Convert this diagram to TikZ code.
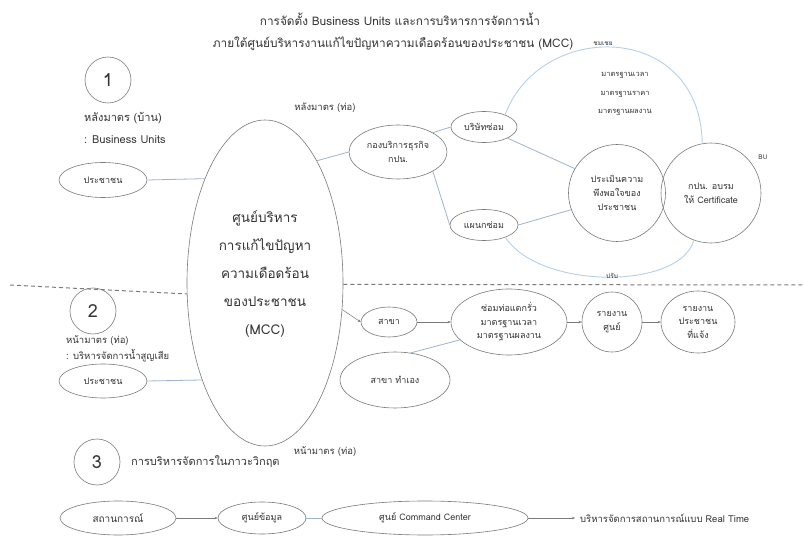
\documentclass[tikz,border=0pt]{standalone}
\usepackage{fontspec}
\setmainfont[Script=Thai]{Loma}
\usetikzlibrary{shapes.geometric,arrows.meta}
\definecolor{txt}{HTML}{333333}
\definecolor{edge}{HTML}{7A7A7A}
\definecolor{link}{HTML}{9DB4CC}
\definecolor{arcb}{HTML}{B5D0E8}
\tikzset{
  every node/.style={text=txt},
  ell/.style={draw=edge, line width=0.6pt, ellipse, inner sep=0pt, align=center, font=\fontsize{9}{13.5}\selectfont},
  circ/.style={draw=edge, line width=0.6pt, circle, inner sep=0pt, align=center, font=\fontsize{9}{14}\selectfont},
  numc/.style={draw=edge, line width=0.6pt, circle, minimum size=46pt, inner sep=0pt, font=\fontsize{18}{20}\selectfont},
  lbl/.style={font=\fontsize{6.5}{9}\selectfont, inner sep=0pt},
  conn/.style={draw=link, line width=0.8pt},
  arr/.style={draw=edge, line width=0.5pt, -{Stealth[length=3pt,width=2.5pt]}},
  arcline/.style={draw=arcb, line width=0.9pt},
}
\begin{document}
\begin{tikzpicture}[x=1pt,y=-1pt]
\useasboundingbox (0,0) rectangle (804,540);
\fill[white] (0,0) rectangle (804,540);
% title
\node[font=\fontsize{11.8}{12}\selectfont] (t1) at (400,19) {การจัดตั้ง Business Units และการบริหารการจัดการน้ำ};
\node[font=\fontsize{11.8}{12}\selectfont] (t2) at (393,44) {ภายใต้ศูนย์บริหารงานแก้ไขปัญหาความเดือดร้อนของประชาชน (MCC)};
% big ellipse
\node[draw=edge, line width=0.6pt, ellipse, minimum width=156pt, minimum height=326pt, inner sep=0pt] (mcc) at (265,283) {};
\node[align=center, font=\fontsize{13.5}{28}\selectfont] (mcctext) at (265,274) {ศูนย์บริหาร\\การแก้ไขปัญหา\\ความเดือดร้อน\\ของประชาชน\\(MCC)};
% section 1
\node[numc] (n1) at (108,80) {1};
\node[lbl, anchor=west, font=\fontsize{11}{12}\selectfont] (s1a) at (84,118) {หลังมาตร (บ้าน)};
\node[lbl, anchor=west, font=\fontsize{11}{12}\selectfont] (s1b) at (84,140) {: Business Units};
\node[ell, minimum width=88pt, minimum height=35pt] (pc1) at (103,180) {ประชาชน};
\node[lbl, font=\fontsize{9.5}{11}\selectfont] (h1) at (325,108) {หลังมาตร (ท่อ)};
\node[ell, minimum width=98pt, minimum height=54pt] (kong) at (398,152) {กองบริการธุรกิจ\\กปน.};
\node[ell, minimum width=66pt, minimum height=31pt] (bs) at (484,127) {บริษัทซ่อม};
\node[ell, minimum width=68pt, minimum height=31pt] (ps) at (484,225) {แผนกซ่อม};
\node[circ, minimum size=97pt] (pr) at (617,193) {ประเมินความ\\พึงพอใจของ\\ประชาชน};
\node[circ, minimum size=100pt] (kp) at (711,193) {กปน. อบรม\\ให้ Certificate};
\node[lbl] (chom) at (603,44) {ชมเชย};
\node[lbl, align=center, font=\fontsize{7.5}{18.5}\selectfont] (std) at (625,94) {มาตรฐานเวลา\\มาตรฐานราคา\\มาตรฐานผลงาน};
\node[lbl] (bu) at (763,157) {BU};
\draw[conn] (pc1.east) -- (mcc.120);
\draw[conn] (mcc.67) -- (kong.west);
\draw[conn] (kong.north east) -- (bs.west);
\draw[conn] (kong.south east) -- (ps.west);
\draw[conn] (bs.south east) -- (pr.150);
\draw[conn] (ps.east) -- (pr.200);
\draw[arcline] (bs.30) .. controls (540,20) and (700,20) .. (kp.100);
\draw[arcline] (ps.-30) .. controls (540,290) and (680,290) .. (kp.250);
\node[lbl] (prap) at (612,276) {ปรับ};
% dashed separator
\coordinate (dl) at (10,285);
\coordinate (dr) at (804,285);
\draw[edge, line width=1pt, dash pattern=on 4pt off 3pt] (dl) -- (mcc.188);
\draw[edge, line width=1pt, dash pattern=on 4pt off 3pt] (mcc.-1) -- (dr);
% section 2
\node[numc] (n2) at (93,311) {2};
\node[lbl, anchor=west, font=\fontsize{9.5}{11}\selectfont] (s2a) at (66,341) {หน้ามาตร (ท่อ)};
\node[lbl, anchor=west, font=\fontsize{9.5}{11}\selectfont] (s2b) at (66,356) {: บริหารจัดการน้ำสูญเสีย};
\node[ell, minimum width=88pt, minimum height=34pt] (pc2) at (103,381) {ประชาชน};
\node[ell, minimum width=56pt, minimum height=30pt] (sk) at (389,322) {สาขา};
\node[ell, minimum width=110pt, minimum height=56pt] (sk2) at (395,380) {สาขา ทำเอง};
\node[ell, minimum width=116pt, minimum height=66pt] (som) at (509,322) {ซ่อมท่อแตกรั่ว\\มาตรฐานเวลา\\มาตรฐานผลงาน};
\node[ell, minimum width=60pt, minimum height=60pt] (rs) at (612,322) {รายงาน\\ศูนย์};
\node[ell, minimum width=74pt, minimum height=62pt] (rp) at (698,322) {รายงาน\\ประชาชน\\ที่แจ้ง};
\node[lbl, font=\fontsize{9.5}{11}\selectfont] (h2) at (325,452) {หน้ามาตร (ท่อ)};
\draw[conn] (pc2.east) -- (mcc.237);
\draw[arr] (mcc.-19) -- (sk.west);
\draw[arr] (sk.east) -- (som.west);
\draw[conn] (sk2.60) -- (som.200);
\draw[arr] (som.east) -- (rs.west);
\draw[arr] (rs.east) -- (rp.west);
% section 3
\node[numc] (n3) at (97,462) {3};
\node[lbl, anchor=west, font=\fontsize{11}{12}\selectfont] (s3) at (131,462) {การบริหารจัดการในภาวะวิกฤต};
\node[ell, minimum width=116pt, minimum height=34pt, font=\fontsize{10}{12}\selectfont] (sit) at (118,518) {สถานการณ์};
\node[ell, minimum width=88pt, minimum height=32pt] (data) at (262,518) {ศูนย์ข้อมูล};
\node[ell, minimum width=206pt, minimum height=34pt] (cc) at (425,518) {ศูนย์ Command Center};
\coordinate (rtend) at (575,518);
\node[lbl, anchor=west, font=\fontsize{9.5}{11}\selectfont] (rt) at (580,518) {บริหารจัดการสถานการณ์แบบ Real Time};
\draw[arr] (sit.east) -- (data.west);
\draw[conn] (data.east) -- (cc.west);
\draw[arr] (cc.east) -- (rtend);
\end{tikzpicture}
\end{document}
